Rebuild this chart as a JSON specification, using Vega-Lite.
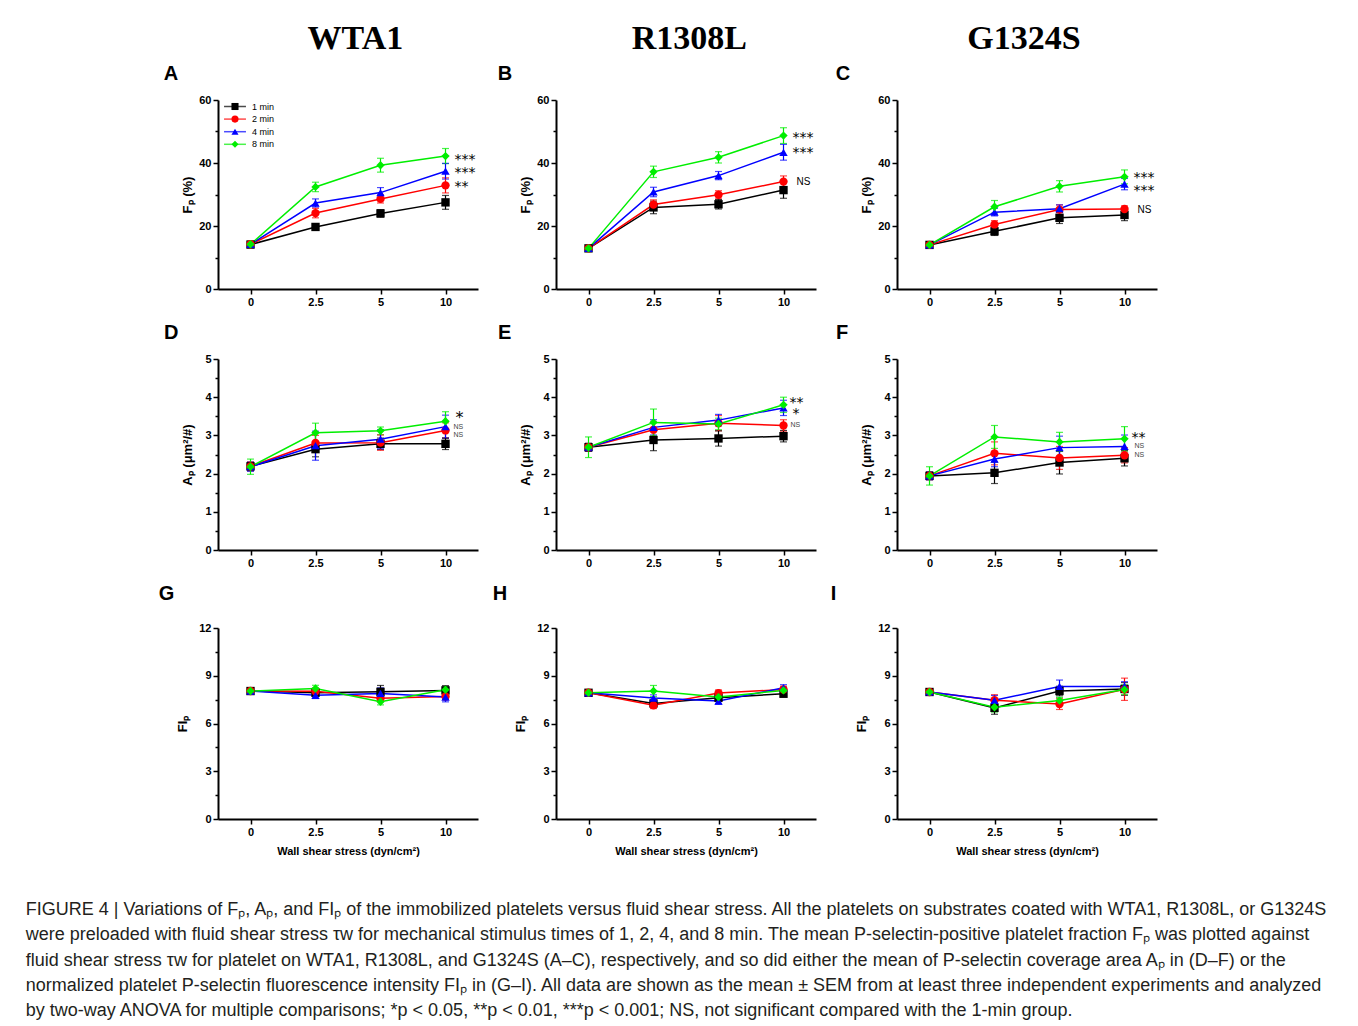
{
"$schema":"https://vega.github.io/schema/vega-lite/v6.json",
"padding":{"left":25,"top":22,"right":10,"bottom":6},
"background":"white",
"title":{"text":["FIGURE 4 | Variations of Fₚ, Aₚ, and FIₚ of the immobilized platelets versus fluid shear stress. All the platelets on substrates coated with WTA1, R1308L, or G1324S","were preloaded with fluid shear stress τw for mechanical stimulus times of 1, 2, 4, and 8 min. The mean P-selectin-positive platelet fraction Fₚ was plotted against","fluid shear stress τw for platelet on WTA1, R1308L, and G1324S (A–C), respectively, and so did either the mean of P-selectin coverage area Aₚ in (D–F) or the","normalized platelet P-selectin fluorescence intensity FIₚ in (G–I). All data are shown as the mean ± SEM from at least three independent experiments and analyzed","by two-way ANOVA for multiple comparisons; *p < 0.05, **p < 0.01, ***p < 0.001; NS, not significant compared with the 1-min group."],"orient":"bottom","anchor":"start","frame":"bounds","dx":-133,"offset":45,"font":"Liberation Sans","fontSize":18,"fontWeight":"normal","lineHeight":25.3,"color":"#231f20","baseline":"top"},
"data":{"values":[
{"p":"A","t":"1 min","x":"0","m":14.1,"e":0.8},{"p":"A","t":"2 min","x":"0","m":14.2,"e":0.8},{"p":"A","t":"4 min","x":"0","m":14.2,"e":0.8},{"p":"A","t":"8 min","x":"0","m":14.2,"e":1.0},
{"p":"A","t":"1 min","x":"2.5","m":19.7,"e":0.9},{"p":"A","t":"1 min","x":"5","m":24.0,"e":1.2},{"p":"A","t":"1 min","x":"10","m":27.5,"e":2.2},
{"p":"A","t":"2 min","x":"2.5","m":24.1,"e":1.5},{"p":"A","t":"2 min","x":"5","m":28.6,"e":1.3},{"p":"A","t":"2 min","x":"10","m":32.9,"e":2.4,"s":"**"},
{"p":"A","t":"4 min","x":"2.5","m":27.3,"e":1.3},{"p":"A","t":"4 min","x":"5","m":30.6,"e":1.6},{"p":"A","t":"4 min","x":"10","m":37.4,"e":2.5,"s":"***"},
{"p":"A","t":"8 min","x":"2.5","m":32.4,"e":1.5},{"p":"A","t":"8 min","x":"5","m":39.3,"e":2.2},{"p":"A","t":"8 min","x":"10","m":42.2,"e":2.4,"s":"***"},
{"p":"B","t":"1 min","x":"0","m":12.9,"e":0.8},{"p":"B","t":"2 min","x":"0","m":12.9,"e":0.8},{"p":"B","t":"4 min","x":"0","m":12.9,"e":0.8},{"p":"B","t":"8 min","x":"0","m":12.9,"e":0.9},
{"p":"B","t":"1 min","x":"2.5","m":25.9,"e":2.0},{"p":"B","t":"1 min","x":"5","m":26.9,"e":1.5},{"p":"B","t":"1 min","x":"10","m":31.4,"e":2.6},
{"p":"B","t":"2 min","x":"2.5","m":26.8,"e":1.5},{"p":"B","t":"2 min","x":"5","m":29.9,"e":1.3},{"p":"B","t":"2 min","x":"10","m":34.1,"e":1.8,"s":"NS"},
{"p":"B","t":"4 min","x":"2.5","m":30.8,"e":1.5},{"p":"B","t":"4 min","x":"5","m":36.0,"e":1.3},{"p":"B","t":"4 min","x":"10","m":43.4,"e":2.5,"s":"***"},
{"p":"B","t":"8 min","x":"2.5","m":37.2,"e":1.8},{"p":"B","t":"8 min","x":"5","m":41.8,"e":1.8},{"p":"B","t":"8 min","x":"10","m":48.7,"e":2.5,"s":"***"},
{"p":"C","t":"1 min","x":"0","m":14.0,"e":0.8},{"p":"C","t":"2 min","x":"0","m":14.0,"e":0.8},{"p":"C","t":"4 min","x":"0","m":14.0,"e":0.8},{"p":"C","t":"8 min","x":"0","m":14.0,"e":0.9},
{"p":"C","t":"1 min","x":"2.5","m":18.3,"e":1.3},{"p":"C","t":"1 min","x":"5","m":22.6,"e":1.8},{"p":"C","t":"1 min","x":"10","m":23.5,"e":1.8},
{"p":"C","t":"2 min","x":"2.5","m":20.5,"e":1.2},{"p":"C","t":"2 min","x":"5","m":25.2,"e":1.5},{"p":"C","t":"2 min","x":"10","m":25.4,"e":1.0,"s":"NS"},
{"p":"C","t":"4 min","x":"2.5","m":24.4,"e":1.2},{"p":"C","t":"4 min","x":"5","m":25.5,"e":1.2},{"p":"C","t":"4 min","x":"10","m":33.3,"e":1.8,"s":"***"},
{"p":"C","t":"8 min","x":"2.5","m":26.1,"e":2.0},{"p":"C","t":"8 min","x":"5","m":32.6,"e":1.8},{"p":"C","t":"8 min","x":"10","m":35.6,"e":2.2,"s":"***"},
{"p":"D","t":"1 min","x":"0","m":2.19,"e":0.1},{"p":"D","t":"2 min","x":"0","m":2.19,"e":0.12},{"p":"D","t":"4 min","x":"0","m":2.18,"e":0.12},{"p":"D","t":"8 min","x":"0","m":2.18,"e":0.2},
{"p":"D","t":"1 min","x":"2.5","m":2.64,"e":0.2},{"p":"D","t":"1 min","x":"5","m":2.78,"e":0.15},{"p":"D","t":"1 min","x":"10","m":2.78,"e":0.15},
{"p":"D","t":"2 min","x":"2.5","m":2.8,"e":0.2},{"p":"D","t":"2 min","x":"5","m":2.81,"e":0.2},{"p":"D","t":"2 min","x":"10","m":3.13,"e":0.2,"s":"NS"},
{"p":"D","t":"4 min","x":"2.5","m":2.73,"e":0.38},{"p":"D","t":"4 min","x":"5","m":2.9,"e":0.25},{"p":"D","t":"4 min","x":"10","m":3.23,"e":0.3,"s":"NS"},
{"p":"D","t":"8 min","x":"2.5","m":3.07,"e":0.25},{"p":"D","t":"8 min","x":"5","m":3.12,"e":0.1},{"p":"D","t":"8 min","x":"10","m":3.37,"e":0.25,"s":"*"},
{"p":"E","t":"1 min","x":"0","m":2.69,"e":0.1},{"p":"E","t":"2 min","x":"0","m":2.69,"e":0.1},{"p":"E","t":"4 min","x":"0","m":2.69,"e":0.1},{"p":"E","t":"8 min","x":"0","m":2.69,"e":0.27},
{"p":"E","t":"1 min","x":"2.5","m":2.88,"e":0.28},{"p":"E","t":"1 min","x":"5","m":2.92,"e":0.2},{"p":"E","t":"1 min","x":"10","m":2.98,"e":0.15},
{"p":"E","t":"2 min","x":"2.5","m":3.15,"e":0.2},{"p":"E","t":"2 min","x":"5","m":3.32,"e":0.2},{"p":"E","t":"2 min","x":"10","m":3.26,"e":0.15,"s":"NS"},
{"p":"E","t":"4 min","x":"2.5","m":3.21,"e":0.2},{"p":"E","t":"4 min","x":"5","m":3.4,"e":0.15},{"p":"E","t":"4 min","x":"10","m":3.72,"e":0.2,"s":"*"},
{"p":"E","t":"8 min","x":"2.5","m":3.34,"e":0.35},{"p":"E","t":"8 min","x":"5","m":3.3,"e":0.15},{"p":"E","t":"8 min","x":"10","m":3.8,"e":0.2,"s":"**"},
{"p":"F","t":"1 min","x":"0","m":1.94,"e":0.1},{"p":"F","t":"2 min","x":"0","m":1.94,"e":0.1},{"p":"F","t":"4 min","x":"0","m":1.94,"e":0.1},{"p":"F","t":"8 min","x":"0","m":1.94,"e":0.24},
{"p":"F","t":"1 min","x":"2.5","m":2.02,"e":0.28},{"p":"F","t":"1 min","x":"5","m":2.29,"e":0.3},{"p":"F","t":"1 min","x":"10","m":2.4,"e":0.2},
{"p":"F","t":"2 min","x":"2.5","m":2.53,"e":0.3},{"p":"F","t":"2 min","x":"5","m":2.41,"e":0.3},{"p":"F","t":"2 min","x":"10","m":2.48,"e":0.2,"s":"NS"},
{"p":"F","t":"4 min","x":"2.5","m":2.38,"e":0.2},{"p":"F","t":"4 min","x":"5","m":2.68,"e":0.3},{"p":"F","t":"4 min","x":"10","m":2.71,"e":0.3,"s":"NS"},
{"p":"F","t":"8 min","x":"2.5","m":2.96,"e":0.3},{"p":"F","t":"8 min","x":"5","m":2.83,"e":0.25},{"p":"F","t":"8 min","x":"10","m":2.91,"e":0.32,"s":"**"},
{"p":"G","t":"1 min","x":"0","m":8.04,"e":0.15},{"p":"G","t":"2 min","x":"0","m":8.04,"e":0.15},{"p":"G","t":"4 min","x":"0","m":8.04,"e":0.15},{"p":"G","t":"8 min","x":"0","m":8.04,"e":0.15},
{"p":"G","t":"1 min","x":"2.5","m":7.93,"e":0.2},{"p":"G","t":"1 min","x":"5","m":7.99,"e":0.4},{"p":"G","t":"1 min","x":"10","m":8.08,"e":0.3},
{"p":"G","t":"2 min","x":"2.5","m":8.03,"e":0.2},{"p":"G","t":"2 min","x":"5","m":7.58,"e":0.2},{"p":"G","t":"2 min","x":"10","m":7.7,"e":0.2},
{"p":"G","t":"4 min","x":"2.5","m":7.77,"e":0.2},{"p":"G","t":"4 min","x":"5","m":7.89,"e":0.35},{"p":"G","t":"4 min","x":"10","m":7.66,"e":0.3},
{"p":"G","t":"8 min","x":"2.5","m":8.2,"e":0.2},{"p":"G","t":"8 min","x":"5","m":7.37,"e":0.2},{"p":"G","t":"8 min","x":"10","m":8.12,"e":0.2},
{"p":"H","t":"1 min","x":"0","m":7.93,"e":0.15},{"p":"H","t":"2 min","x":"0","m":7.93,"e":0.15},{"p":"H","t":"4 min","x":"0","m":7.93,"e":0.15},{"p":"H","t":"8 min","x":"0","m":7.93,"e":0.15},
{"p":"H","t":"1 min","x":"2.5","m":7.26,"e":0.2},{"p":"H","t":"1 min","x":"5","m":7.62,"e":0.2},{"p":"H","t":"1 min","x":"10","m":7.87,"e":0.2},
{"p":"H","t":"2 min","x":"2.5","m":7.14,"e":0.2},{"p":"H","t":"2 min","x":"5","m":7.91,"e":0.2},{"p":"H","t":"2 min","x":"10","m":8.14,"e":0.2},
{"p":"H","t":"4 min","x":"2.5","m":7.6,"e":0.2},{"p":"H","t":"4 min","x":"5","m":7.41,"e":0.2},{"p":"H","t":"4 min","x":"10","m":8.24,"e":0.2},
{"p":"H","t":"8 min","x":"2.5","m":8.04,"e":0.35},{"p":"H","t":"8 min","x":"5","m":7.66,"e":0.2},{"p":"H","t":"8 min","x":"10","m":8.08,"e":0.2},
{"p":"I","t":"1 min","x":"0","m":7.98,"e":0.15},{"p":"I","t":"2 min","x":"0","m":7.98,"e":0.15},{"p":"I","t":"4 min","x":"0","m":7.98,"e":0.15},{"p":"I","t":"8 min","x":"0","m":7.98,"e":0.15},
{"p":"I","t":"1 min","x":"2.5","m":6.98,"e":0.4},{"p":"I","t":"1 min","x":"5","m":8.04,"e":0.3},{"p":"I","t":"1 min","x":"10","m":8.17,"e":0.4},
{"p":"I","t":"2 min","x":"2.5","m":7.46,"e":0.35},{"p":"I","t":"2 min","x":"5","m":7.23,"e":0.35},{"p":"I","t":"2 min","x":"10","m":8.15,"e":0.7},
{"p":"I","t":"4 min","x":"2.5","m":7.46,"e":0.3},{"p":"I","t":"4 min","x":"5","m":8.33,"e":0.4},{"p":"I","t":"4 min","x":"10","m":8.33,"e":0.3},
{"p":"I","t":"8 min","x":"2.5","m":7.02,"e":0.3},{"p":"I","t":"8 min","x":"5","m":7.44,"e":0.2},{"p":"I","t":"8 min","x":"10","m":8.13,"e":0.3}
]},
"config":{
"view":{"stroke":null},
"axis":{"domainColor":"black","domainWidth":2,"tickColor":"black","tickWidth":1.5,"labelFont":"Liberation Sans","labelFontSize":11,"labelFontWeight":"bold","labelColor":"black","titleFont":"Liberation Sans","titleFontSize":13,"titleFontWeight":"bold","titleColor":"black","grid":false,"labelPadding":2},
"axisX":{"labelAngle":0,"tickSize":5,"titleFontSize":11,"titlePadding":8},
"title":{"font":"Liberation Sans","fontSize":20,"fontWeight":"bold","anchor":"start","frame":"bounds","color":"black"}
},
"spacing":14,
"resolve":{"scale":{"color":"independent","shape":"independent","fill":"independent"},"legend":{"color":"independent","shape":"independent","fill":"independent"}},
"hconcat":[
{"title":{"text":"WTA1","font":"Liberation Serif","fontSize":34,"fontWeight":"bold","anchor":"middle","dx":37,"offset":8},
"spacing":16,
"resolve":{"scale":{"color":"independent","shape":"independent","fill":"independent"},"legend":{"color":"independent","shape":"independent","fill":"independent"}},
"vconcat":[
{"title":{"text":"A","dx":-18,"offset":10},"width":260,"height":189,
"transform":[{"filter":"datum.p=='A'"}],
"encoding":{
"x":{"field":"x","type":"ordinal","sort":["0","2.5","5","10"],"scale":{"type":"point","padding":0.5},"axis":{"title":null}},
"y":{"field":"m","type":"quantitative","scale":{"domain":[0,60],"nice":false},"axis":{"title":"Fₚ (%)","values":[0,10,20,30,40,50,60],"labelExpr":"datum.value%20==0?format(datum.value,'d'):''","tickSize":{"condition":{"test":"datum.value%20==0","value":5},"value":3},"titlePadding":4}}
},
"layer":[
{"mark":{"type":"errorbar","ticks":{"size":7},"thickness":1.2},"encoding":{"yError":{"field":"e"},"color":{"field":"t","type":"nominal","scale":{"range":["#000000","#ff0000","#0000ff","#00ee00"]},"legend":{"orient":"none","legendX":12.5,"legendY":2,"title":null,"padding":0,"symbolType":"M-3.1,0H3.1","symbolSize":50,"symbolStrokeWidth":1.5,"labelExpr":"' '","labelFontSize":9,"labelFont":"Liberation Sans","rowPadding":2.6}}}},
{"mark":{"type":"line","strokeWidth":1.5},"encoding":{"color":{"field":"t","type":"nominal","scale":{"range":["#000000","#ff0000","#0000ff","#00ee00"]},"legend":{"orient":"none","legendX":12.5,"legendY":2,"title":null,"padding":0,"symbolType":"M-3.1,0H3.1","symbolSize":50,"symbolStrokeWidth":1.5,"labelExpr":"' '","labelFontSize":9,"labelFont":"Liberation Sans","rowPadding":2.6}}}},
{"mark":{"type":"point","filled":true,"size":70,"opacity":1},"encoding":{"fill":{"field":"t","type":"nominal","scale":{"domain":["1 min","2 min","4 min","8 min"],"range":["#000000","#ff0000","#0000ff","#00ee00"]},"legend":{"orient":"none","legendX":12.5,"legendY":2,"title":null,"padding":0,"symbolSize":50,"labelFontSize":9,"labelFont":"Liberation Sans","labelFontWeight":"normal","labelColor":"black","labelOffset":12.5,"rowPadding":2.6,"symbolStrokeWidth":0}},"shape":{"field":"t","type":"nominal","scale":{"domain":["1 min","2 min","4 min","8 min"],"range":["square","circle","triangle-up","diamond"]},"legend":{"orient":"none","legendX":12.5,"legendY":2,"title":null,"padding":0,"symbolSize":50,"labelFontSize":9,"labelFont":"Liberation Sans","labelFontWeight":"normal","labelColor":"black","labelOffset":12.5,"rowPadding":2.6,"symbolStrokeWidth":0}}}},
{"transform":[{"filter":"datum.s&&datum.t=='8 min'"}],"mark":{"type":"text","align":"left","baseline":"middle","dx":9,"dy":3.5,"fontSize":14,"font":"DejaVu Sans","color":"black"},"encoding":{"text":{"field":"s"}}},
{"transform":[{"filter":"datum.s&&datum.t!='8 min'"}],"mark":{"type":"text","align":"left","baseline":"middle","dx":9,"dy":1.5,"fontSize":14,"font":"DejaVu Sans","color":"black"},"encoding":{"text":{"field":"s"}}}
]},
{"title":{"text":"D","dx":-18,"offset":10},"width":260,"height":191,
"transform":[{"filter":"datum.p=='D'"}],
"encoding":{
"x":{"field":"x","type":"ordinal","sort":["0","2.5","5","10"],"scale":{"type":"point","padding":0.5},"axis":{"title":null}},
"y":{"field":"m","type":"quantitative","scale":{"domain":[0,5],"nice":false},"axis":{"title":"Aₚ (μm²/#)","values":[0,0.5,1,1.5,2,2.5,3,3.5,4,4.5,5],"labelExpr":"datum.value%1==0?format(datum.value,'d'):''","tickSize":{"condition":{"test":"datum.value%1==0","value":5},"value":3},"titlePadding":10}}
},
"layer":[
{"mark":{"type":"errorbar","ticks":{"size":7},"thickness":1.2},"encoding":{"yError":{"field":"e"},"color":{"field":"t","type":"nominal","scale":{"range":["#000000","#ff0000","#0000ff","#00ee00"]},"legend":null}}},
{"mark":{"type":"line","strokeWidth":1.5},"encoding":{"color":{"field":"t","type":"nominal","scale":{"range":["#000000","#ff0000","#0000ff","#00ee00"]},"legend":null}}},
{"mark":{"type":"point","filled":true,"size":70,"opacity":1},"encoding":{"fill":{"field":"t","type":"nominal","scale":{"domain":["1 min","2 min","4 min","8 min"],"range":["#000000","#ff0000","#0000ff","#00ee00"]},"legend":null},"shape":{"field":"t","type":"nominal","scale":{"domain":["1 min","2 min","4 min","8 min"],"range":["square","circle","triangle-up","diamond"]},"legend":null}}},
{"transform":[{"filter":"datum.s&&datum.t=='8 min'"}],"mark":{"type":"text","align":"left","baseline":"middle","dx":10,"dy":-3,"fontSize":16,"font":"DejaVu Sans","color":"black"},"encoding":{"text":{"field":"s"}}},
{"transform":[{"filter":"datum.s&&datum.t=='4 min'"}],"mark":{"type":"text","align":"left","baseline":"middle","dx":8,"dy":0.5,"fontSize":7,"font":"Liberation Sans","color":"#444444"},"encoding":{"text":{"field":"s"}}},
{"transform":[{"filter":"datum.s&&datum.t=='2 min'"}],"mark":{"type":"text","align":"left","baseline":"middle","dx":8,"dy":5,"fontSize":7,"font":"Liberation Sans","color":"#444444"},"encoding":{"text":{"field":"s"}}}
]},
{"title":{"text":"G","dx":-18,"offset":18},"width":260,"height":191,
"transform":[{"filter":"datum.p=='G'"}],
"encoding":{
"x":{"field":"x","type":"ordinal","sort":["0","2.5","5","10"],"scale":{"type":"point","padding":0.5},"axis":{"title":"Wall shear stress (dyn/cm²)"}},
"y":{"field":"m","type":"quantitative","scale":{"domain":[0,12],"nice":false},"axis":{"title":"FIₚ","values":[0,1.5,3,4.5,6,7.5,9,10.5,12],"labelExpr":"datum.value%3==0?format(datum.value,'d'):''","tickSize":{"condition":{"test":"datum.value%3==0","value":5},"value":3},"titlePadding":9}}
},
"layer":[
{"mark":{"type":"errorbar","ticks":{"size":7},"thickness":1.2},"encoding":{"yError":{"field":"e"},"color":{"field":"t","type":"nominal","scale":{"range":["#000000","#ff0000","#0000ff","#00ee00"]},"legend":null}}},
{"mark":{"type":"line","strokeWidth":1.5},"encoding":{"color":{"field":"t","type":"nominal","scale":{"range":["#000000","#ff0000","#0000ff","#00ee00"]},"legend":null}}},
{"mark":{"type":"point","filled":true,"size":70,"opacity":1},"encoding":{"fill":{"field":"t","type":"nominal","scale":{"domain":["1 min","2 min","4 min","8 min"],"range":["#000000","#ff0000","#0000ff","#00ee00"]},"legend":null},"shape":{"field":"t","type":"nominal","scale":{"domain":["1 min","2 min","4 min","8 min"],"range":["square","circle","triangle-up","diamond"]},"legend":null}}}
]}
]},
{"title":{"text":"R1308L","font":"Liberation Serif","fontSize":34,"fontWeight":"bold","anchor":"middle","dx":35,"offset":8},
"spacing":16,
"resolve":{"scale":{"color":"independent","shape":"independent","fill":"independent"},"legend":{"color":"independent","shape":"independent","fill":"independent"}},
"vconcat":[
{"title":{"text":"B","dx":-22,"offset":10},"width":260,"height":189,
"transform":[{"filter":"datum.p=='B'"}],
"encoding":{
"x":{"field":"x","type":"ordinal","sort":["0","2.5","5","10"],"scale":{"type":"point","padding":0.5},"axis":{"title":null}},
"y":{"field":"m","type":"quantitative","scale":{"domain":[0,60],"nice":false},"axis":{"title":"Fₚ (%)","values":[0,10,20,30,40,50,60],"labelExpr":"datum.value%20==0?format(datum.value,'d'):''","tickSize":{"condition":{"test":"datum.value%20==0","value":5},"value":3},"titlePadding":4}}
},
"layer":[
{"mark":{"type":"errorbar","ticks":{"size":7},"thickness":1.2},"encoding":{"yError":{"field":"e"},"color":{"field":"t","type":"nominal","scale":{"range":["#000000","#ff0000","#0000ff","#00ee00"]},"legend":null}}},
{"mark":{"type":"line","strokeWidth":1.5},"encoding":{"color":{"field":"t","type":"nominal","scale":{"range":["#000000","#ff0000","#0000ff","#00ee00"]},"legend":null}}},
{"mark":{"type":"point","filled":true,"size":70,"opacity":1},"encoding":{"fill":{"field":"t","type":"nominal","scale":{"domain":["1 min","2 min","4 min","8 min"],"range":["#000000","#ff0000","#0000ff","#00ee00"]},"legend":null},"shape":{"field":"t","type":"nominal","scale":{"domain":["1 min","2 min","4 min","8 min"],"range":["square","circle","triangle-up","diamond"]},"legend":null}}},
{"transform":[{"filter":"datum.s&&datum.t=='8 min'"}],"mark":{"type":"text","align":"left","baseline":"middle","dx":9,"dy":2.3,"fontSize":14,"font":"DejaVu Sans","color":"black"},"encoding":{"text":{"field":"s"}}},
{"transform":[{"filter":"datum.s&&datum.t=='4 min'"}],"mark":{"type":"text","align":"left","baseline":"middle","dx":9,"dy":0.5,"fontSize":14,"font":"DejaVu Sans","color":"black"},"encoding":{"text":{"field":"s"}}},
{"transform":[{"filter":"datum.s=='NS'"}],"mark":{"type":"text","align":"left","baseline":"middle","dx":13,"dy":0,"fontSize":10,"font":"Liberation Sans","color":"black"},"encoding":{"text":{"field":"s"}}}
]},
{"title":{"text":"E","dx":-22,"offset":10},"width":260,"height":191,
"transform":[{"filter":"datum.p=='E'"}],
"encoding":{
"x":{"field":"x","type":"ordinal","sort":["0","2.5","5","10"],"scale":{"type":"point","padding":0.5},"axis":{"title":null}},
"y":{"field":"m","type":"quantitative","scale":{"domain":[0,5],"nice":false},"axis":{"title":"Aₚ (μm²/#)","values":[0,0.5,1,1.5,2,2.5,3,3.5,4,4.5,5],"labelExpr":"datum.value%1==0?format(datum.value,'d'):''","tickSize":{"condition":{"test":"datum.value%1==0","value":5},"value":3},"titlePadding":10}}
},
"layer":[
{"mark":{"type":"errorbar","ticks":{"size":7},"thickness":1.2},"encoding":{"yError":{"field":"e"},"color":{"field":"t","type":"nominal","scale":{"range":["#000000","#ff0000","#0000ff","#00ee00"]},"legend":null}}},
{"mark":{"type":"line","strokeWidth":1.5},"encoding":{"color":{"field":"t","type":"nominal","scale":{"range":["#000000","#ff0000","#0000ff","#00ee00"]},"legend":null}}},
{"mark":{"type":"point","filled":true,"size":70,"opacity":1},"encoding":{"fill":{"field":"t","type":"nominal","scale":{"domain":["1 min","2 min","4 min","8 min"],"range":["#000000","#ff0000","#0000ff","#00ee00"]},"legend":null},"shape":{"field":"t","type":"nominal","scale":{"domain":["1 min","2 min","4 min","8 min"],"range":["square","circle","triangle-up","diamond"]},"legend":null}}},
{"transform":[{"filter":"datum.s&&datum.t=='8 min'"}],"mark":{"type":"text","align":"left","baseline":"middle","dx":6,"dy":-1.5,"fontSize":14,"font":"DejaVu Sans","color":"black"},"encoding":{"text":{"field":"s"}}},
{"transform":[{"filter":"datum.s&&datum.t=='4 min'"}],"mark":{"type":"text","align":"left","baseline":"middle","dx":9,"dy":6,"fontSize":14,"font":"DejaVu Sans","color":"black"},"encoding":{"text":{"field":"s"}}},
{"transform":[{"filter":"datum.s=='NS'"}],"mark":{"type":"text","align":"left","baseline":"middle","dx":7,"dy":0,"fontSize":7,"font":"Liberation Sans","color":"#444444"},"encoding":{"text":{"field":"s"}}}
]},
{"title":{"text":"H","dx":-22,"offset":18},"width":260,"height":191,
"transform":[{"filter":"datum.p=='H'"}],
"encoding":{
"x":{"field":"x","type":"ordinal","sort":["0","2.5","5","10"],"scale":{"type":"point","padding":0.5},"axis":{"title":"Wall shear stress (dyn/cm²)"}},
"y":{"field":"m","type":"quantitative","scale":{"domain":[0,12],"nice":false},"axis":{"title":"FIₚ","values":[0,1.5,3,4.5,6,7.5,9,10.5,12],"labelExpr":"datum.value%3==0?format(datum.value,'d'):''","tickSize":{"condition":{"test":"datum.value%3==0","value":5},"value":3},"titlePadding":9}}
},
"layer":[
{"mark":{"type":"errorbar","ticks":{"size":7},"thickness":1.2},"encoding":{"yError":{"field":"e"},"color":{"field":"t","type":"nominal","scale":{"range":["#000000","#ff0000","#0000ff","#00ee00"]},"legend":null}}},
{"mark":{"type":"line","strokeWidth":1.5},"encoding":{"color":{"field":"t","type":"nominal","scale":{"range":["#000000","#ff0000","#0000ff","#00ee00"]},"legend":null}}},
{"mark":{"type":"point","filled":true,"size":70,"opacity":1},"encoding":{"fill":{"field":"t","type":"nominal","scale":{"domain":["1 min","2 min","4 min","8 min"],"range":["#000000","#ff0000","#0000ff","#00ee00"]},"legend":null},"shape":{"field":"t","type":"nominal","scale":{"domain":["1 min","2 min","4 min","8 min"],"range":["square","circle","triangle-up","diamond"]},"legend":null}}}
]}
]},
{"title":{"text":"G1324S","font":"Liberation Serif","fontSize":34,"fontWeight":"bold","anchor":"middle","dx":30,"offset":8},
"spacing":16,
"resolve":{"scale":{"color":"independent","shape":"independent","fill":"independent"},"legend":{"color":"independent","shape":"independent","fill":"independent"}},
"vconcat":[
{"title":{"text":"C","dx":-25,"offset":10},"width":260,"height":189,
"transform":[{"filter":"datum.p=='C'"}],
"encoding":{
"x":{"field":"x","type":"ordinal","sort":["0","2.5","5","10"],"scale":{"type":"point","padding":0.5},"axis":{"title":null}},
"y":{"field":"m","type":"quantitative","scale":{"domain":[0,60],"nice":false},"axis":{"title":"Fₚ (%)","values":[0,10,20,30,40,50,60],"labelExpr":"datum.value%20==0?format(datum.value,'d'):''","tickSize":{"condition":{"test":"datum.value%20==0","value":5},"value":3},"titlePadding":4}}
},
"layer":[
{"mark":{"type":"errorbar","ticks":{"size":7},"thickness":1.2},"encoding":{"yError":{"field":"e"},"color":{"field":"t","type":"nominal","scale":{"range":["#000000","#ff0000","#0000ff","#00ee00"]},"legend":null}}},
{"mark":{"type":"line","strokeWidth":1.5},"encoding":{"color":{"field":"t","type":"nominal","scale":{"range":["#000000","#ff0000","#0000ff","#00ee00"]},"legend":null}}},
{"mark":{"type":"point","filled":true,"size":70,"opacity":1},"encoding":{"fill":{"field":"t","type":"nominal","scale":{"domain":["1 min","2 min","4 min","8 min"],"range":["#000000","#ff0000","#0000ff","#00ee00"]},"legend":null},"shape":{"field":"t","type":"nominal","scale":{"domain":["1 min","2 min","4 min","8 min"],"range":["square","circle","triangle-up","diamond"]},"legend":null}}},
{"transform":[{"filter":"datum.s&&datum.t=='8 min'"}],"mark":{"type":"text","align":"left","baseline":"middle","dx":9,"dy":1.5,"fontSize":14,"font":"DejaVu Sans","color":"black"},"encoding":{"text":{"field":"s"}}},
{"transform":[{"filter":"datum.s&&datum.t=='4 min'"}],"mark":{"type":"text","align":"left","baseline":"middle","dx":9,"dy":6.5,"fontSize":14,"font":"DejaVu Sans","color":"black"},"encoding":{"text":{"field":"s"}}},
{"transform":[{"filter":"datum.s=='NS'"}],"mark":{"type":"text","align":"left","baseline":"middle","dx":13,"dy":1,"fontSize":10,"font":"Liberation Sans","color":"black"},"encoding":{"text":{"field":"s"}}}
]},
{"title":{"text":"F","dx":-25,"offset":10},"width":260,"height":191,
"transform":[{"filter":"datum.p=='F'"}],
"encoding":{
"x":{"field":"x","type":"ordinal","sort":["0","2.5","5","10"],"scale":{"type":"point","padding":0.5},"axis":{"title":null}},
"y":{"field":"m","type":"quantitative","scale":{"domain":[0,5],"nice":false},"axis":{"title":"Aₚ (μm²/#)","values":[0,0.5,1,1.5,2,2.5,3,3.5,4,4.5,5],"labelExpr":"datum.value%1==0?format(datum.value,'d'):''","tickSize":{"condition":{"test":"datum.value%1==0","value":5},"value":3},"titlePadding":10}}
},
"layer":[
{"mark":{"type":"errorbar","ticks":{"size":7},"thickness":1.2},"encoding":{"yError":{"field":"e"},"color":{"field":"t","type":"nominal","scale":{"range":["#000000","#ff0000","#0000ff","#00ee00"]},"legend":null}}},
{"mark":{"type":"line","strokeWidth":1.5},"encoding":{"color":{"field":"t","type":"nominal","scale":{"range":["#000000","#ff0000","#0000ff","#00ee00"]},"legend":null}}},
{"mark":{"type":"point","filled":true,"size":70,"opacity":1},"encoding":{"fill":{"field":"t","type":"nominal","scale":{"domain":["1 min","2 min","4 min","8 min"],"range":["#000000","#ff0000","#0000ff","#00ee00"]},"legend":null},"shape":{"field":"t","type":"nominal","scale":{"domain":["1 min","2 min","4 min","8 min"],"range":["square","circle","triangle-up","diamond"]},"legend":null}}},
{"transform":[{"filter":"datum.s&&datum.t=='8 min'"}],"mark":{"type":"text","align":"left","baseline":"middle","dx":7,"dy":-1,"fontSize":14,"font":"DejaVu Sans","color":"black"},"encoding":{"text":{"field":"s"}}},
{"transform":[{"filter":"datum.s=='NS'"}],"mark":{"type":"text","align":"left","baseline":"middle","dx":10,"dy":0,"fontSize":7,"font":"Liberation Sans","color":"#444444"},"encoding":{"text":{"field":"s"}}}
]},
{"title":{"text":"I","dx":-25,"offset":18},"width":260,"height":191,
"transform":[{"filter":"datum.p=='I'"}],
"encoding":{
"x":{"field":"x","type":"ordinal","sort":["0","2.5","5","10"],"scale":{"type":"point","padding":0.5},"axis":{"title":"Wall shear stress (dyn/cm²)"}},
"y":{"field":"m","type":"quantitative","scale":{"domain":[0,12],"nice":false},"axis":{"title":"FIₚ","values":[0,1.5,3,4.5,6,7.5,9,10.5,12],"labelExpr":"datum.value%3==0?format(datum.value,'d'):''","tickSize":{"condition":{"test":"datum.value%3==0","value":5},"value":3},"titlePadding":9}}
},
"layer":[
{"mark":{"type":"errorbar","ticks":{"size":7},"thickness":1.2},"encoding":{"yError":{"field":"e"},"color":{"field":"t","type":"nominal","scale":{"range":["#000000","#ff0000","#0000ff","#00ee00"]},"legend":null}}},
{"mark":{"type":"line","strokeWidth":1.5},"encoding":{"color":{"field":"t","type":"nominal","scale":{"range":["#000000","#ff0000","#0000ff","#00ee00"]},"legend":null}}},
{"mark":{"type":"point","filled":true,"size":70,"opacity":1},"encoding":{"fill":{"field":"t","type":"nominal","scale":{"domain":["1 min","2 min","4 min","8 min"],"range":["#000000","#ff0000","#0000ff","#00ee00"]},"legend":null},"shape":{"field":"t","type":"nominal","scale":{"domain":["1 min","2 min","4 min","8 min"],"range":["square","circle","triangle-up","diamond"]},"legend":null}}}
]}
]}
]
}
